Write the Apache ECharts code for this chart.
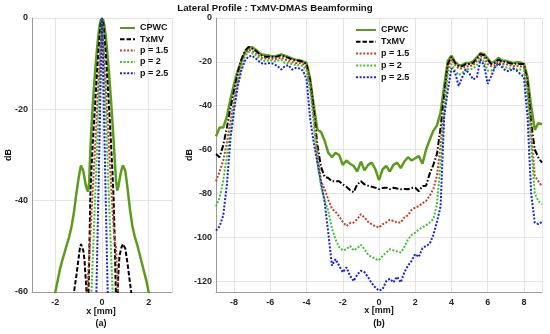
<!DOCTYPE html>
<html>
<head>
<meta charset="utf-8">
<script src="https://cdn.jsdelivr.net/npm/echarts@6/dist/echarts.min.js"></script>
<style>html,body{margin:0;padding:0;background:#fff;}#c{width:550px;height:334px;}</style>
</head>
<body>
<div id="c"></div>
<script>
// ---------- Panel (a) data ----------
const xA = [-2.2,-2.1,-2.0,-1.9,-1.8,-1.7,-1.6,-1.5,-1.4,-1.3,-1.2,-1.1,
  -1.0,-0.95,-0.9,-0.85,-0.8,-0.75,-0.7,-0.65,-0.6,-0.55,-0.5,-0.45,-0.4,-0.35,-0.3,-0.25,-0.2,-0.15,-0.1,-0.05,
  0,
  0.05,0.1,0.15,0.2,0.25,0.3,0.35,0.4,0.45,0.5,0.55,0.6,0.65,0.7,0.75,0.8,0.85,0.9,0.95,1.0,
  1.1,1.2,1.3,1.4,1.5,1.6,1.7,1.8,1.9,2.0,2.1,2.2];
const cpwcA = [-65,-62.5,-60,-57.5,-55,-53,-51.3,-49.5,-47.8,-45.5,-42.5,-38.5,
  -35,-33.5,-32.3,-32.5,-33.5,-35,-36.5,-37.5,-38,-36,-29,-24,-19.5,-15.5,-12,-9,-6,-3.5,-1.6,-0.4,
  0,
  -0.4,-1.6,-3.5,-6,-9,-12,-15.5,-19,-23,-27,-31.5,-35.5,-37.8,-37,-35.5,-34,-33,-32.3,-32.5,-33.5,
  -37.5,-42,-45.5,-47.8,-49.5,-51.5,-53.5,-55.5,-57.5,-60,-62.5,-65];
const txmvA = [null,null,null,null,null,null,null,null,null,-64,-60,-56.5,
  -52.5,-50.5,-49.5,-49.8,-51,-53,-57,-61,-66,-53,-39,-33,-28,-23.5,-19.5,-15,-11,-7,-3.8,-1,
  0,
  -1,-3.8,-7,-11,-15,-19.5,-24,-29,-34,-40,-50,-62,-64,-56,-52,-51,-50,-49.5,-49.3,-50.5,
  -54,-58,-62,null,null,null,null,null,null,null,null,null];
const p15A = [null,null,null,null,null,null,null,null,null,null,null,null,
  null,null,null,null,null,-72,-67,-61.5,-57,-52.5,-47.5,-43,-38,-33.5,-28.5,-24,-19,-14,-9.5,-4.5,
  0,
  -4.5,-9.5,-14,-19,-23.5,-28.5,-33,-37.5,-42,-46,-49,-50,-56,-63,-70,null,null,null,null,null,
  null,null,null,null,null,null,null,null,null,null,null,null];
const p2A = [null,null,null,null,null,null,null,null,null,null,null,null,
  null,null,null,null,null,null,null,null,null,null,-67,-60,-53.5,-47,-40,-33.5,-27,-20,-13.5,-6.5,
  0,
  -6.5,-13.5,-20,-26.5,-33,-40,-46.5,-53,-59.5,-66,null,null,null,null,null,null,null,null,null,null,
  null,null,null,null,null,null,null,null,null,null,null,null];
const p25A = [null,null,null,null,null,null,null,null,null,null,null,null,
  null,null,null,null,null,null,null,null,null,null,null,null,null,null,-75,-62.5,-50,-37.5,-25,-12.5,
  0,
  -12.5,-25,-37,-49.5,-61.5,-74,null,null,null,null,null,null,null,null,null,null,null,null,null,null,
  null,null,null,null,null,null,null,null,null,null,null,null];

// ---------- Panel (b) data ----------
const xB = [-9,-8.8,-8.6,-8.4,-8.2,-8,-7.8,-7.6,-7.4,-7.2,-7,-6.8,-6.6,-6.4,-6.2,-6,-5.8,-5.6,-5.4,-5.2,
  -5,-4.8,-4.6,-4.4,-4.2,-4,-3.8,-3.6,-3.4,-3.2,-3,-2.8,-2.6,-2.4,-2.2,-2,-1.8,-1.6,-1.4,-1.2,
  -1,-0.8,-0.6,-0.4,-0.2,0,0.2,0.4,0.6,0.8,1,1.2,1.4,1.6,1.8,2,2.2,2.4,2.6,2.8,
  3,3.2,3.4,3.6,3.8,4,4.2,4.4,4.6,4.8,5,5.2,5.4,5.6,5.8,6,6.2,6.4,6.6,6.8,
  7,7.2,7.4,7.6,7.8,8,8.2,8.4,8.6,8.8,9];
const cpwcB = [-54,-50,-50,-45,-37,-30,-24,-19.5,-15.5,-13.5,-13.3,-14.5,-16,-16.8,-17,-17.3,-17.5,-17.2,-16.6,-17.2,
  -17.8,-18.5,-19,-19.2,-19.8,-20.5,-28,-40,-51,-52,-56,-61.5,-63.5,-61.5,-62.5,-67,-65,-66.5,-67.5,-70,
  -65.5,-69.5,-67,-66,-69,-74,-69,-67.5,-70,-67,-66,-68.5,-65.5,-63.5,-65,-64,-63,-66.5,-60,-55.5,
  -51.5,-49,-43,-31,-19.5,-17.2,-20,-21.5,-21.5,-20.5,-20.5,-19.8,-18,-16,-16.5,-18.5,-20.5,-19.8,-18.2,-19.5,
  -19.5,-20,-20.5,-20.2,-20.3,-20.8,-27,-40,-51,-48,-48.5];
const txmvB = [-62,-63.5,-58,-50,-41,-33,-25,-19,-15,-13.2,-14,-15,-16.5,-17.5,-17.8,-17.5,-18,-17.5,-17,-17.8,
  -18.2,-19,-19.3,-19.5,-20,-21,-29,-42,-58,-68,-72.5,-73,-74.5,-74.5,-74.5,-75.9,-77,-78.5,-79.5,-75.9,
  -74.5,-75.9,-76.5,-77,-77.4,-78.1,-77.6,-77.4,-78.1,-77.4,-77.8,-78.1,-78,-78.1,-77.5,-77.4,-79,-76.7,-76.5,-71,
  -67,-62,-50,-35,-21,-17.8,-20.5,-22,-22,-21,-21,-20.5,-18.5,-16.5,-17,-19,-21,-20.5,-19,-20,
  -20,-20.5,-21,-20.8,-21,-21,-29,-47.8,-60,-63.7,-66];
const p15B = [-74.5,-70,-65,-57,-47,-37,-28,-21,-16.5,-14.5,-15,-16,-17.5,-18.5,-18.5,-18.3,-18.8,-18.5,-18,-19,
  -19.5,-20,-20.5,-20.5,-21,-22.5,-31,-45,-62,-74.5,-78,-83,-87,-88.5,-90.5,-93,-94.9,-93.5,-93.3,-91.8,
  -89.5,-91,-93,-94.1,-95,-95.6,-94.1,-93.3,-92,-92.6,-93.3,-93.3,-91,-90,-87.5,-86.5,-85.8,-84.5,-83.5,-81,
  -78,-72,-58,-40,-23,-19,-21.5,-23,-23,-22,-22,-21.5,-19.5,-17.5,-18,-21,-22,-21.5,-20,-21,
  -21,-21.5,-22,-21.8,-22,-22.5,-32,-52,-72,-74.5,-76.7];
const p2B = [-86,-82,-74,-63,-51,-40,-30,-22,-17.5,-15.5,-16,-17,-18.5,-19.5,-19.5,-19.2,-19.8,-19.5,-19,-20.5,
  -20.5,-21,-21.5,-21.5,-22,-24,-33,-48,-66,-77,-83,-88,-96,-101,-104.5,-106,-105.5,-104,-106,-105,
  -103.5,-105.5,-108,-109,-110,-110.5,-108.5,-107,-105.5,-106,-106.5,-107,-104.5,-101,-99,-97.9,-96.5,-95.5,-94.5,-93.3,
  -91.8,-85,-66,-44,-25,-21,-24,-26,-25,-23,-23.5,-23,-21.5,-18.5,-20,-24,-24,-22.5,-21,-22,
  -22.5,-23,-23,-23.5,-23.5,-24,-35,-58,-80,-83.5,-85];
const p25B = [-97,-95,-90,-76,-55,-42,-31,-24,-19.5,-17.5,-17.3,-18.5,-20,-21,-20.8,-20.5,-21,-22,-23.5,-22,
  -21.5,-23.5,-22.8,-23,-24,-28,-46,-57,-66,-75,-84,-98,-113,-110,-113,-116,-113.8,-117.6,-120,-117,
  -115.3,-116,-118.3,-121,-123,-124.4,-123.7,-120,-119,-120.6,-118,-120.6,-116,-113,-110.8,-107.7,-109,-105,-104,-103,
  -99,-93,-86,-45,-33,-23,-25,-31,-27,-23.5,-25.5,-28,-27,-19,-21.5,-30,-26.5,-22.5,-20.5,-22.5,
  -24,-24.3,-23,-24,-25.5,-27,-45,-80,-93.3,-94,-93];

const names = ['CPWC','TxMV','p = 1.5','p = 2','p = 2.5'];
const titleText = 'Lateral Profile : TxMV-DMAS Beamforming';

const FONT = "'Liberation Sans', Arial, sans-serif";
const colors = {cpwc:'#5c9c1c', txmv:'#000000', p15:'#c0422a', p2:'#3dc42a', p25:'#1a24d0'};
const gridCol = '#e4e4e4', axisCol = '#9a9a9a', labCol = '#262626';

function pairs(xs, ys){ return xs.map((x,i)=>[x, ys[i]]); }

function xAx(idx, min, max, split){
  return {type:'value', gridIndex:idx, min:min, max:max, splitNumber:split,
    axisLine:{show:true, onZero:false, lineStyle:{color:axisCol, width:1}},
    axisTick:{show:false},
    axisLabel:{fontSize:9, fontWeight:'bold', color:labCol, fontFamily:FONT, margin:6, showMinLabel:false, showMaxLabel:false},
    splitLine:{show:true, lineStyle:{color:gridCol, width:1}}};
}
function yAx(idx, min, max, extra){
  return Object.assign({type:'value', gridIndex:idx, min:min, max:max,
    axisLine:{show:true, onZero:false, lineStyle:{color:axisCol, width:1}},
    axisTick:{show:false},
    axisLabel:{fontSize:9, fontWeight:'bold', color:labCol, fontFamily:FONT, margin:4, showMinLabel: idx===0},
    splitLine:{show:true, lineStyle:{color:gridCol, width:1}}}, extra);
}

function mk(name, idx, xs, ys, color, width, type){
  return {name:name, type:'line', xAxisIndex:idx, yAxisIndex:idx, data:pairs(xs, ys),
    symbol:'none', showSymbol:false, clip:true, smooth:false, connectNulls:false,
    lineStyle:{color:color, width:width, type:type, cap:'butt'}, itemStyle:{color:color},
    emphasis:{disabled:true}};
}

const dotted = [2, 1.6];
const legendBase = {orient:'vertical', padding:0, itemHeight:8, selectedMode:false,
  itemStyle:{opacity:0, borderWidth:0},
  textStyle:{fontSize:9, fontWeight:'bold', color:'#111', fontFamily:FONT}};
const option = {
  animation:false,
  backgroundColor:'#ffffff',
  textStyle:{fontFamily:FONT},
  grid:[{left:32, top:18, width:140, height:274}, {left:216, top:18, width:326, height:274}],
  xAxis:[xAx(0,-3,3,3), xAx(1,-9,9,9)],
  yAxis:[yAx(0,-60,0,{interval:20}), yAx(1,-125,0,{splitNumber:6})],
  legend:[
    Object.assign({data:names, left:119, top:23.5, itemWidth:15, itemGap:2.3}, legendBase),
    Object.assign({data:names, left:355, top:25.5, itemWidth:20, itemGap:2.8}, legendBase)
  ],
  graphic:[
    {type:'text', x:275, y:8, style:{text:titleText, font:"bold 9.7px "+FONT, fill:'#111', align:'center', verticalAlign:'middle'}},
    {type:'text', x:9, y:155, rotation:Math.PI/2, style:{text:'dB', font:"bold 9px "+FONT, fill:'#111', align:'center', verticalAlign:'middle'}},
    {type:'text', x:190, y:155, rotation:Math.PI/2, style:{text:'dB', font:"bold 9px "+FONT, fill:'#111', align:'center', verticalAlign:'middle'}},
    {type:'text', x:101, y:312, style:{text:'x [mm]', font:"bold 9px "+FONT, fill:'#111', align:'center', verticalAlign:'middle'}},
    {type:'text', x:101, y:323.5, style:{text:'(a)', font:"bold 9px "+FONT, fill:'#111', align:'center', verticalAlign:'middle'}},
    {type:'text', x:379, y:311, style:{text:'x [mm]', font:"bold 9px "+FONT, fill:'#111', align:'center', verticalAlign:'middle'}},
    {type:'text', x:379, y:324, style:{text:'(b)', font:"bold 9px "+FONT, fill:'#111', align:'center', verticalAlign:'middle'}}
  ],
  series:[
    mk('CPWC',0,xA,cpwcA,colors.cpwc,2.5,'solid'),
    mk('TxMV',0,xA,txmvA,colors.txmv,2,[4.5,2]),
    mk('p = 1.5',0,xA,p15A,colors.p15,2,dotted),
    mk('p = 2',0,xA,p2A,colors.p2,2,dotted),
    mk('p = 2.5',0,xA,p25A,colors.p25,2,dotted),
    mk('CPWC',1,xB,cpwcB,colors.cpwc,2.5,'solid'),
    mk('TxMV',1,xB,txmvB,colors.txmv,2,[6,2,1.5,2]),
    mk('p = 1.5',1,xB,p15B,colors.p15,2,dotted),
    mk('p = 2',1,xB,p2B,colors.p2,2,dotted),
    mk('p = 2.5',1,xB,p25B,colors.p25,2,dotted)
  ]
};
const chart = echarts.init(document.getElementById('c'), null, {renderer:'canvas'});
chart.setOption(option);
</script>
</body>
</html>
